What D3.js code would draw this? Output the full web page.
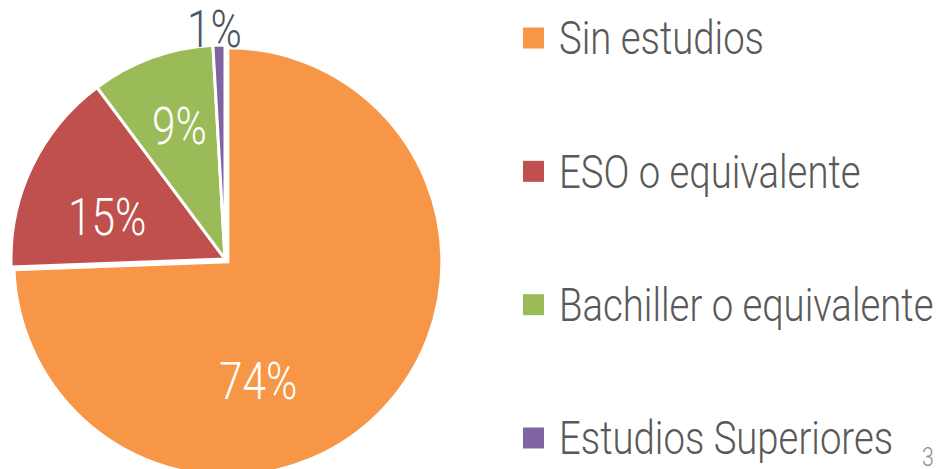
<!DOCTYPE html>
<html>
<head>
<meta charset="utf-8">
<script src="https://cdn.jsdelivr.net/npm/d3@7"></script>
<style>
  html, body { margin: 0; padding: 0; background: #fff; }
  svg { display: block; }
  text { font-family: Roboto, "Liberation Sans", sans-serif; font-weight: 300; }
</style>
</head>
<body>
<svg id="chart" width="942" height="469"></svg>
<script>
const categories = ["Sin estudios", "ESO o equivalente", "Bachiller o equivalente", "Estudios Superiores"];
const values = [74.4, 15.4, 9.3, 0.9];
const colors = ["#F79646", "#C0504D", "#9BBB59", "#8064A2"];

const svg = d3.select("#chart");
const cx = 225, cy = 259, radius = 214;
const squeeze = 0.815; // condensed look
const explode = [4, 0, 0, 0];
// label tweaks: extra angle (deg) and radius from centre
const labelPos = [
    { da: 31, r: 127, fill: "#fff" },
    { da: -6, r: 125, fill: "#fff" },
    { da: 1, r: 140, fill: "#fff" },
    { da: -1, r: 230, fill: "#4A5562" }
];

const data = categories.map((c, i) => ({ name: c, value: values[i], i }));
const total = d3.sum(values);
const pie = d3.pie().sort(null).value(d => d.value);
const arc = d3.arc().innerRadius(0).outerRadius(radius);
const arcs = pie(data);

const g = svg.append("g").attr("transform", `translate(${cx},${cy})`);

g.selectAll("path.slice")
    .data(arcs)
    .join("path")
    .attr("class", "slice")
    .attr("d", arc)
    .attr("fill", d => colors[d.data.i])
    .attr("stroke", "#fff")
    .attr("stroke-width", 3)
    .attr("transform", d => {
        const [x, y] = d3.pointRadial((d.startAngle + d.endAngle) / 2, explode[d.data.i]);
        return `translate(${x},${y})`;
    });

const fmt = d3.format(".0%");
g.selectAll("text.lbl")
    .data(arcs)
    .join("text")
    .attr("class", "lbl")
    .attr("transform", d => {
        const p = labelPos[d.data.i];
        const mid = (d.startAngle + d.endAngle) / 2 + p.da * Math.PI / 180;
        const [x, y] = d3.pointRadial(mid, p.r);
        return `translate(${x},${y}) scale(${squeeze},1)`;
    })
    .attr("text-anchor", "middle")
    .attr("dominant-baseline", "central")
    .attr("font-size", 52)
    .attr("fill", d => labelPos[d.data.i].fill)
    .text(d => fmt(d.data.value / total));

// legend
const ly = d3.scalePoint().domain(categories).range([38, 438]);
const legend = svg.append("g").selectAll("g")
    .data(categories)
    .join("g")
    .attr("transform", d => `translate(523,${ly(d)})`);

legend.append("rect")
    .attr("x", 0).attr("y", -10.5)
    .attr("width", 21).attr("height", 21)
    .attr("fill", (d, i) => colors[i]);

legend.append("text")
    .attr("transform", `translate(36,0) scale(${squeeze},1)`)
    .attr("dominant-baseline", "central")
    .attr("font-size", 47)
    .attr("fill", "#595959")
    .text(d => d);

// slide number
svg.append("text")
    .attr("transform", `translate(928,466) scale(${squeeze},1)`)
    .attr("text-anchor", "middle")
    .attr("font-size", 26)
    .attr("fill", "#8C8C8C")
    .text("3");
</script>
</body>
</html>
